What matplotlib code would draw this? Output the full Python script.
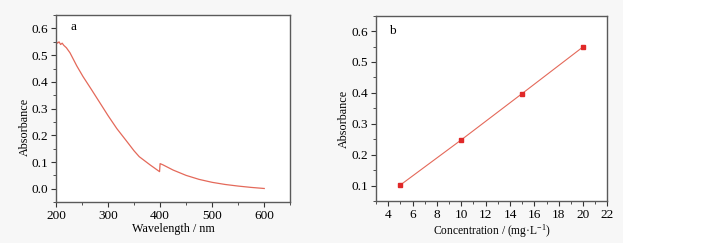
import matplotlib
matplotlib.use("Agg")
import matplotlib.pyplot as plt
from matplotlib.patches import Rectangle
from matplotlib.ticker import MultipleLocator, FormatStrFormatter

# panel a: UV-vis spectrum
wavelength = [200, 203, 206, 209, 212, 215, 220, 227, 240, 252, 268, 285, 300,
              317, 335, 350, 360, 381, 399, 400, 405, 425, 450, 475, 500, 525,
              550, 575, 600]
absorbance = [0.553, 0.545, 0.550, 0.540, 0.545, 0.537, 0.528, 0.509, 0.460,
              0.420, 0.372, 0.320, 0.274, 0.225, 0.180, 0.142, 0.120, 0.089,
              0.064, 0.094, 0.090, 0.070, 0.050, 0.035, 0.024, 0.016, 0.010,
              0.005, 0.001]

# panel b: calibration
conc = [5, 10, 15, 20]
conc_abs = [0.102, 0.248, 0.398, 0.549]

plt.rcParams["font.family"] = ["Liberation Serif", "DejaVu Serif"]
plt.rcParams["mathtext.fontset"] = "custom"
plt.rcParams["mathtext.rm"] = "Liberation Serif"
plt.rcParams["mathtext.it"] = "Liberation Serif:italic"

fig = plt.figure(figsize=(7.08, 2.52), dpi=100, facecolor="white")
fig.patches.append(Rectangle((0, 0.036), 623 / 708, 0.964, transform=fig.transFigure,
                             facecolor="#f7f7f7", edgecolor="none", zorder=-10))

ax1 = fig.add_axes([0.079, 0.198, 0.331, 0.742])
ax2 = fig.add_axes([0.531, 0.202, 0.327, 0.736])

spine_col = "#5a5a5a"
for ax in (ax1, ax2):
    ax.set_facecolor("white")
    for s in ax.spines.values():
        s.set_color(spine_col)
        s.set_linewidth(1.0)
    ax.tick_params(which="major", direction="out", length=3.5, width=0.8,
                   color="#333333", labelsize=9.5, pad=2)
    ax.tick_params(which="minor", direction="out", length=2, width=0.6, color="#333333")
    ax.yaxis.set_minor_locator(MultipleLocator(0.05))
    ax.yaxis.set_major_locator(MultipleLocator(0.1))
    ax.yaxis.set_major_formatter(FormatStrFormatter("%.1f"))

ax1.plot(wavelength, absorbance, color="#e4695a", lw=0.9)
ax1.set_xlim(200, 650)
ax1.set_ylim(-0.05, 0.65)
ax1.xaxis.set_major_locator(MultipleLocator(100))
ax1.xaxis.set_minor_locator(MultipleLocator(50))
ax1.set_xlabel("Wavelength / nm", fontsize=8.7, labelpad=1)
ax1.set_ylabel("Absorbance", fontsize=8.7)
ax1.yaxis.set_label_coords(-0.107, 0.40)
ax1.text(0.073, 0.935, "a", transform=ax1.transAxes, fontsize=9.5,
         ha="center", va="center")

ax2.plot(conc, conc_abs, color="#e4695a", lw=0.8, marker="s", ms=3.5,
         markerfacecolor="#e02828", markeredgecolor="#e02828")
ax2.set_xlim(3, 22)
ax2.set_ylim(0.05, 0.65)
ax2.xaxis.set_major_locator(MultipleLocator(2))
ax2.xaxis.set_minor_locator(MultipleLocator(1))
ax2.set_xlabel("Concentration / (mg·L$^{-1}$)", fontsize=8.3, labelpad=1)
ax2.set_ylabel("Absorbance", fontsize=8.7)
ax2.yaxis.set_label_coords(-0.112, 0.443)
ax2.text(0.072, 0.917, "b", transform=ax2.transAxes, fontsize=9.5,
         ha="center", va="center")

fig.savefig("out.png", dpi=100, facecolor=fig.get_facecolor())
